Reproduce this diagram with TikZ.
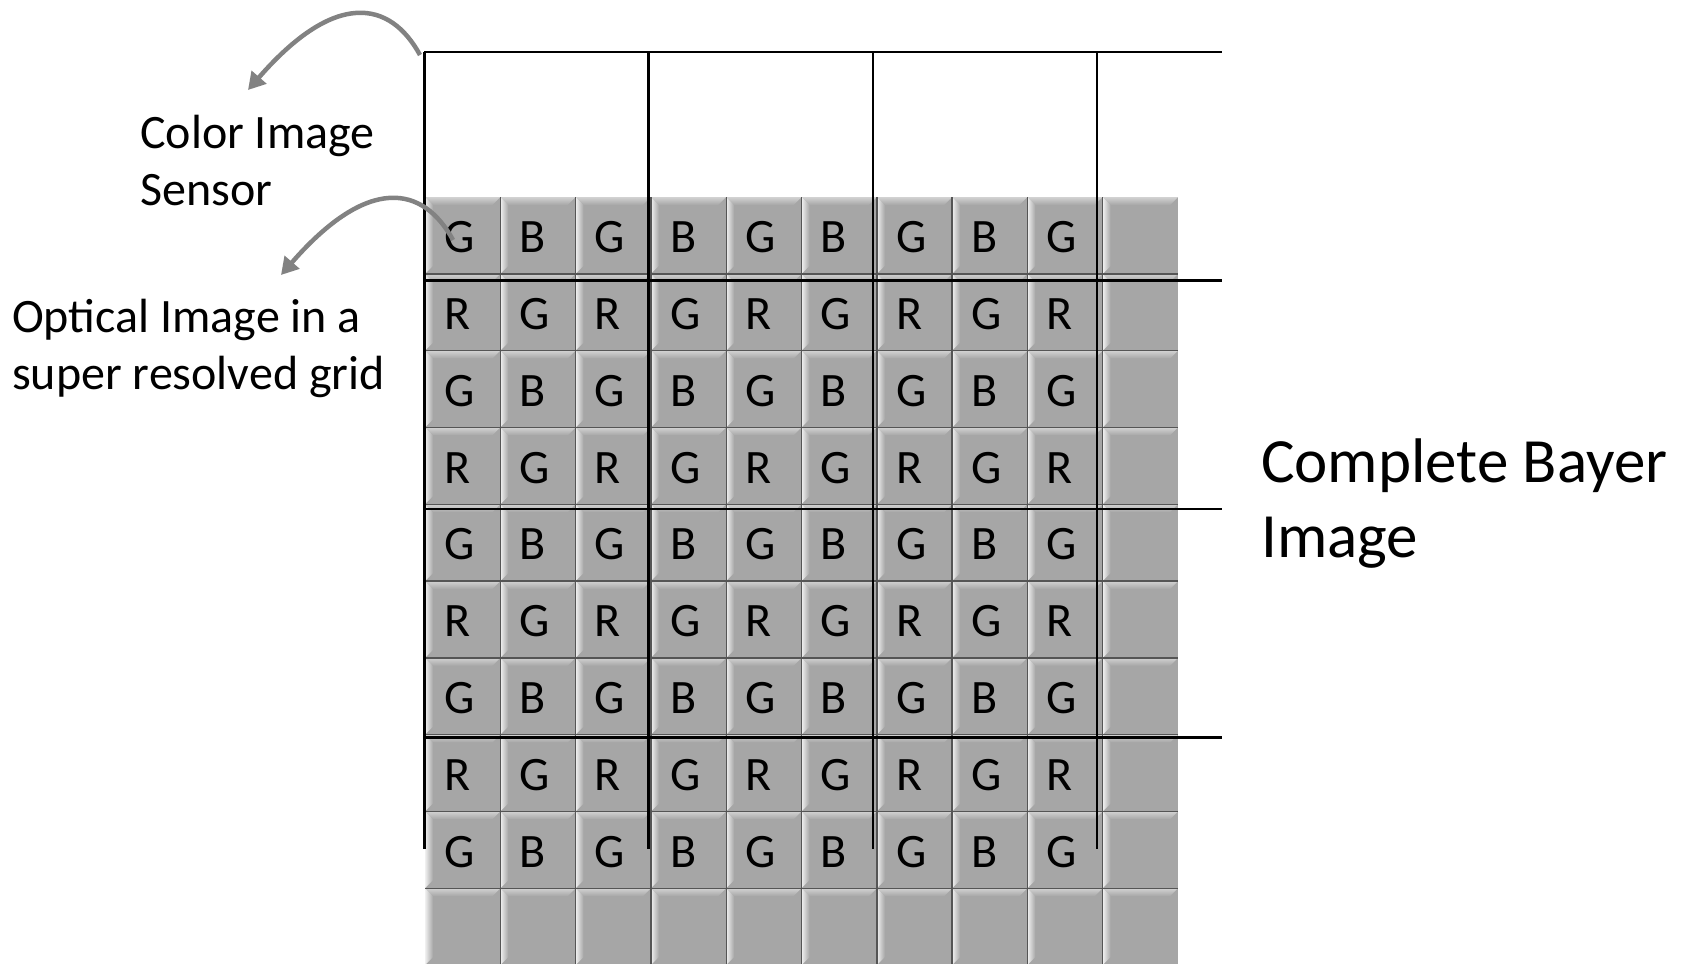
\documentclass[tikz,border=0pt]{standalone}
\usepackage{fontspec}
\setmainfont{Carlito}
\usetikzlibrary{arrows.meta}
\definecolor{cellgray}{HTML}{A6A6A6}
\definecolor{bevtop}{HTML}{D2D2D2}
\definecolor{bevleft}{HTML}{F0F0F0}
\definecolor{gridline}{HTML}{555555}
\definecolor{arrowgray}{HTML}{828282}
\tikzset{
  sensorline/.style={black, line width=2.4pt},
  cellline/.style={gridline, line width=1.4pt},
  cellletter/.style={anchor=base west, inner sep=0pt, font=\fontsize{48}{58}\selectfont},
  smalllabel/.style={anchor=base west, inner sep=0pt, align=left, font=\fontsize{48}{57}\selectfont},
  biglabel/.style={anchor=base west, inner sep=0pt, align=left, font=\fontsize{63}{75}\selectfont},
  callout/.style={arrowgray, line width=4.5pt, -{Triangle[length=17pt,width=19pt]}}
}
\begin{document}
\begin{tikzpicture}[x=1pt,y=-1pt]
\useasboundingbox (0,0) rectangle (1693,963);
\begin{scope}
\clip (0,0) rectangle (1693,963);
% gray super resolved grid
\fill[cellgray] (425,197) rectangle (1178,965);
\foreach \i in {0,...,9}{
  \foreach \j in {0,...,9}{
    \pgfmathsetmacro\xa{425+\i*75.3}
    \pgfmathsetmacro\xb{425+(\i+1)*75.3}
    \pgfmathsetmacro\ya{197+\j*76.8}
    \pgfmathsetmacro\yb{197+(\j+1)*76.8}
    \shade[top color=bevtop,bottom color=cellgray]
      (\xa,\ya) -- (\xb,\ya) -- (\xb-8,\ya+8) -- (\xa+8,\ya+8) -- cycle;
    \shade[left color=bevleft,right color=cellgray]
      (\xa,\ya) -- (\xa+8,\ya+8) -- (\xa+8,\yb-8) -- (\xa,\yb) -- cycle;
  }
}
\foreach \i in {1,...,9}{
  \draw[cellline] ({425+\i*75.3},197) -- ({425+\i*75.3},965);
}
\foreach \j in {1,...,9}{
  \draw[cellline] (425,{197+\j*76.8}) -- (1178,{197+\j*76.8});
}
% letters
\foreach \j in {0,2,4,6,8}{
  \foreach \i/\l in {0/G,1/B,2/G,3/B,4/G,5/B,6/G,7/B,8/G}{
    \node[cellletter] (c-\i-\j) at ({425+\i*75.3+19},{197+\j*76.8+55.7}) {\l};
  }
}
\foreach \j in {1,3,5,7}{
  \foreach \i/\l in {0/R,1/G,2/R,3/G,4/R,5/G,6/R,7/G,8/R}{
    \node[cellletter] (c-\i-\j) at ({425+\i*75.3+19},{197+\j*76.8+55.7}) {\l};
  }
}
\end{scope}
% color image sensor grid
\foreach \k in {0,...,3}{
  \draw[sensorline] (424,{52+\k*228.5}) -- (1222,{52+\k*228.5});
  \draw[sensorline] ({424.3+\k*224.2},52) -- ({424.3+\k*224.2},849);
}
% labels (anchor is the baseline of the last line)
\node[smalllabel] (sensorlabel) at (140,205) {Color Image\\Sensor};
\node[smalllabel] (opticallabel) at (12,389) {Optical Image in a\\super resolved grid};
\node[biglabel] (bayerlabel) at (1261,557) {Complete Bayer\\Image};
% callout arrows
\coordinate (a1s) at (420,55);
\coordinate (a1e) at (248,90);
\coordinate (a2s) at (453,240);
\coordinate (a2e) at (281,275);
\draw[callout] (a1s) .. controls (390,0) and (335,-10) .. (a1e);
\draw[callout] (a2s) .. controls (423,185) and (368,175) .. (a2e);
\end{tikzpicture}
\end{document}
